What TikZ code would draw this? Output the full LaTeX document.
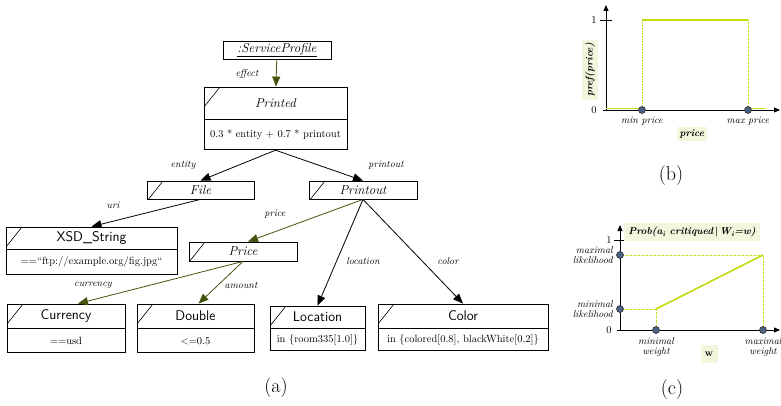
\documentclass[tikz,border=0pt]{standalone}
\usepackage{fontspec}
\usetikzlibrary{arrows.meta}
\definecolor{olivearr}{HTML}{44540F}
\definecolor{curvecol}{HTML}{C4DA10}
\definecolor{paleyel}{HTML}{F3F6DC}
\definecolor{dotblue}{HTML}{4A5F82}
\newcommand{\fsz}[1]{\fontsize{#1}{#1}\selectfont}
\begin{document}
\begin{tikzpicture}[x=1pt,y=-1pt,
        hdr/.style={draw, line width=0.8pt, inner sep=0pt,
            path picture={\draw[line width=0.6pt]
                ([xshift=16pt]path picture bounding box.north west) --
                ([yshift=-20pt]path picture bounding box.north west);}},
        ihdr/.style={hdr, font=\fsz{13}\itshape},
        shdr/.style={hdr, font=\fsz{14}\sffamily},
        val/.style={draw, line width=0.8pt, inner sep=0pt, font=\fsz{10.5}},
        lbl/.style={font=\fsz{10}\itshape, inner sep=1pt},
        arr/.style={line width=0.8pt, -{Triangle[length=10pt,width=8pt]}},
        oarr/.style={arr, draw=olivearr},
        curve/.style={curvecol, line width=1.6pt},
        guide/.style={curvecol, line width=0.6pt, densely dotted},
        dot/.style={circle, draw=black!80, fill=dotblue, line width=0.6pt,
            minimum size=7pt, inner sep=0pt},
        tag/.style={fill=paleyel, font=\fsz{10}\bfseries\itshape, inner sep=3pt},
        caption/.style={font=\fsz{20}}]
    \useasboundingbox (0,0) rectangle (781,406);

    % (a) profile tree
    \node[draw, line width=0.8pt, inner sep=0pt, minimum width=108pt, minimum height=18pt,
        font=\fsz{13}\itshape] (sp) at (277,50) {\underline{:ServiceProfile}};
    \node[ihdr, minimum width=143pt, minimum height=32pt] (printed) at (275.5,103) {Printed};
    \node[val, minimum width=143pt, minimum height=30pt, anchor=north] (printedv)
        at (printed.south) {0.3 * entity + 0.7 * printout};
    \node[ihdr, minimum width=107pt, minimum height=18pt] (file) at (200.5,190) {File};
    \node[ihdr, minimum width=108pt, minimum height=18pt] (printout) at (363,190) {Printout};
    \node[shdr, minimum width=171pt, minimum height=22pt] (xsd) at (91.5,238)
        {XSD\_String\hspace{49pt}};
    \node[val, minimum width=171pt, minimum height=25pt, anchor=north] (xsdv)
        at (xsd.south) {==“ftp://example.org/fig.jpg“};
    \node[ihdr, minimum width=108pt, minimum height=19pt] (price) at (243,251.5) {Price};
    \node[shdr, minimum width=118pt, minimum height=24pt] (currency) at (66,316) {Currency};
    \node[val, minimum width=118pt, minimum height=24pt, anchor=north] (currencyv)
        at (currency.south) {==usd};
    \node[shdr, minimum width=117pt, minimum height=24pt] (double) at (195.5,316) {Double};
    \node[val, minimum width=117pt, minimum height=24pt, anchor=north] (doublev)
        at (double.south) {<=0.5};
    \node[shdr, minimum width=95pt, minimum height=22pt] (location) at (317.5,317) {Location};
    \node[val, minimum width=95pt, minimum height=22pt, anchor=north] (locationv)
        at (location.south) {in \{room335[1.0]\}};
    \node[shdr, minimum width=170pt, minimum height=24pt] (color) at (463,316) {Color};
    \node[val, minimum width=170pt, minimum height=22pt, anchor=north] (colorv)
        at (color.south) {in \{colored[0.8], blackWhite[0.2]\}};

    \draw[oarr] (sp) -- (printed);
    \draw[arr] (printedv.south) -- (file.north);
    \draw[arr] (printedv.south) -- (printout.north);
    \draw[arr] (file.south) -- (xsd.north);
    \draw[oarr] (printout.south) -- ([xshift=5pt]price.north);
    \draw[arr] (printout.south) -- (location.north);
    \draw[arr] (printout.south) -- (color.north);
    \draw[oarr] (price.south) -- ([xshift=12pt]currency.north);
    \draw[oarr] (price.south) -- ([xshift=3pt]double.north);

    \node[lbl] (leffect) at (247,74) {effect};
    \node[lbl] (lentity) at (183,165) {entity};
    \node[lbl] (lprintout) at (386,165) {printout};
    \node[lbl] (luri) at (113,205) {uri};
    \node[lbl] (lprice) at (275,214) {price};
    \node[lbl] (llocation) at (363,261) {location};
    \node[lbl] (lcolor) at (448,261) {color};
    \node[lbl] (lcurrency) at (93,285) {currency};
    \node[lbl] (lamount) at (241,285) {amount};
    \node[caption] (capa) at (276,388) {(a)};

    % (b) price preference
    \draw[line width=0.8pt, -{Triangle[length=6pt,width=5pt]}] (606,110) -- (606,5);
    \draw[line width=0.8pt, -{Triangle[length=6pt,width=5pt]}] (603,110) -- (780,110);
    \draw[line width=0.8pt] (600,20) -- (612,20);
    \node[font=\fsz{10.5}] (bone) at (594,20) {1};
    \node[font=\fsz{10.5}] (bzero) at (594,110) {0};
    \draw[curve] (606,108.5) -- (642,108.5);
    \draw[guide] (642,110) -- (642,20);
    \draw[curve] (642,20) -- (748,20);
    \draw[guide] (748,20) -- (748,110);
    \draw[curve] (748,108.5) -- (765,108.5);
    \node[dot] (minp) at (642,110) {};
    \node[dot] (maxp) at (748,110) {};
    \node[lbl] (lminp) at (642,121) {min price};
    \node[lbl] (lmaxp) at (748,121) {max price};
    \node[tag] (bxlab) at (692,134) {price};
    \node[tag, rotate=90] (bylab) at (590,70) {pref(price)};
    \node[caption] (capb) at (671,176) {(b)};

    % (c) critique likelihood
    \draw[line width=0.8pt, -{Triangle[length=6pt,width=5pt]}] (620,330) -- (620,225);
    \draw[line width=0.8pt, -{Triangle[length=6pt,width=5pt]}] (617,330) -- (780,330);
    \draw[line width=0.8pt] (614,240) -- (627,240);
    \node[font=\fsz{10.5}] (cone) at (609,240) {1};
    \node[font=\fsz{10.5}] (czero) at (609,330) {0};
    \draw[guide] (620,309) -- (656,309);
    \draw[guide] (656,330) -- (656,309);
    \draw[guide] (620,255) -- (763,255);
    \draw[guide] (763,330) -- (763,255);
    \draw[curve] (656,309) -- (763,255);
    \node[dot] (maxl) at (620,255) {};
    \node[dot] (minl) at (620,309) {};
    \node[dot] (minw) at (656,330) {};
    \node[dot] (maxw) at (763,330) {};
    \node[lbl, anchor=east, align=right] (lmaxl) at (614,255) {maximal\\likelihood};
    \node[lbl, anchor=east, align=right] (lminl) at (614,309) {minimal\\likelihood};
    \node[lbl, anchor=north, align=center] (lminw) at (656,336) {minimal\\weight};
    \node[lbl, anchor=north, align=center] (lmaxw) at (763,336) {maximal\\weight};
    \node[tag, minimum width=17pt, minimum height=18pt, font=\fsz{10}\bfseries] (cxlab) at (709,354) {w};
    \node[tag, inner sep=4pt] (ctitle) at (692,232)
        {Prob(a\textsubscript{i} critiqued\,\textup{|}\,W\textsubscript{i}=w)};
    \node[caption] (capc) at (672,390) {(c)};
\end{tikzpicture}
\end{document}
